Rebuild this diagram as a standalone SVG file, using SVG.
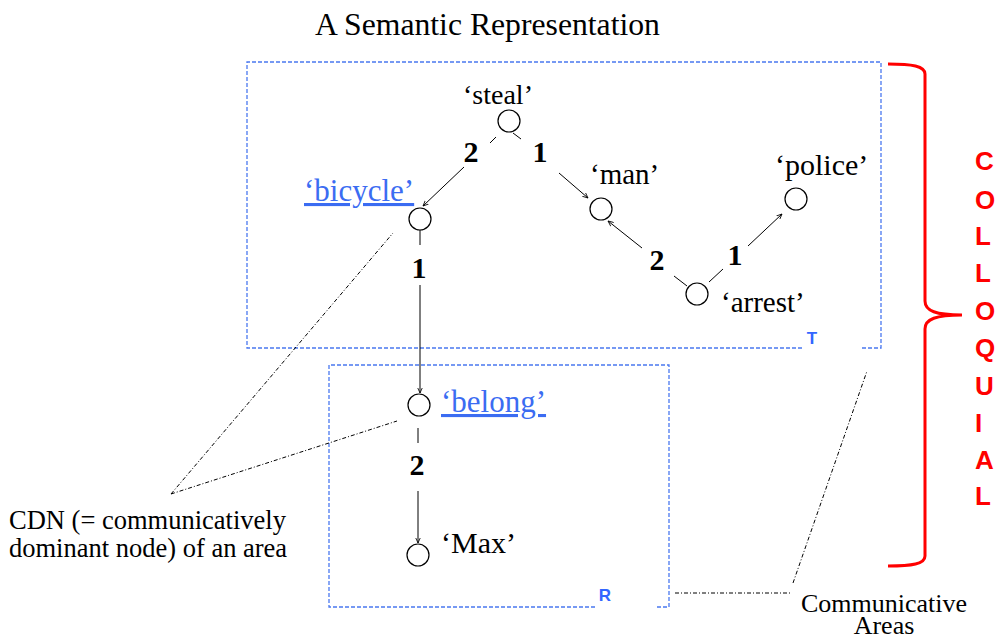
<svg xmlns="http://www.w3.org/2000/svg" width="996" height="635" viewBox="0 0 996 635" font-family="Liberation Serif, serif">
<defs>
<marker id="arr" viewBox="0 0 10 10" refX="9" refY="5" markerWidth="6" markerHeight="6" markerUnits="userSpaceOnUse" orient="auto">
<path d="M0,1 L9,5 L0,9" fill="none" stroke="#000" stroke-width="1.4"/>
</marker>
<style>
.bg{fill:#fff}
.area{fill:none;stroke:#4a78f0;stroke-width:1.3;stroke-dasharray:4,2}
.node{fill:#fff;stroke:#000;stroke-width:1.2}
.edge{stroke:#000;stroke-width:1;fill:none}
.lead{stroke:#000;stroke-width:1;fill:none;stroke-dasharray:4,2,1,2}
</style>
</defs>
<rect class="bg" width="996" height="635"/>

<text x="315" y="35" font-size="31.7" fill="#000">A Semantic Representation</text>

<g id="area-T">
<path class="area" d="M802,348 H247 V62 H881 V348 H862"/>
<text x="812" y="344" font-family="Liberation Sans, Arial, sans-serif" font-size="17" font-weight="bold" fill="#3366ff" text-anchor="middle">T</text>
</g>
<g id="area-R">
<path class="area" d="M595,607 H329 V365 H669 V607 H655"/>
<text x="605" y="601" font-family="Liberation Sans, Arial, sans-serif" font-size="17" font-weight="bold" fill="#3366ff" text-anchor="middle">R</text>
</g>

<g id="connectors">
<line class="edge" x1="490" y1="143" x2="496" y2="137"/>
<line class="edge" x1="464" y1="167" x2="423" y2="206" marker-end="url(#arr)"/>
<line class="edge" x1="513" y1="133" x2="521" y2="139"/>
<line class="edge" x1="559" y1="173" x2="588" y2="198" marker-end="url(#arr)"/>
<line class="edge" x1="674" y1="276" x2="687" y2="286"/>
<line class="edge" x1="642" y1="248" x2="608" y2="221" marker-end="url(#arr)"/>
<line class="edge" x1="709" y1="282" x2="723" y2="269"/>
<line class="edge" x1="748" y1="246" x2="782" y2="214" marker-end="url(#arr)"/>
<line class="edge" x1="420" y1="229" x2="420" y2="245"/>
<line class="edge" x1="420" y1="285" x2="420" y2="393" marker-end="url(#arr)"/>
<line class="edge" x1="418" y1="428" x2="418" y2="443"/>
<line class="edge" x1="418" y1="491" x2="418" y2="543" marker-end="url(#arr)"/>
<g font-size="30" font-weight="bold" fill="#000" text-anchor="middle" font-family="Liberation Serif, serif">
<text x="471" y="162">2</text>
<text x="540" y="162">1</text>
<text x="657" y="270">2</text>
<text x="735" y="265">1</text>
<text x="419" y="278">1</text>
<text x="417" y="475">2</text>
</g>
<line class="lead" x1="171" y1="494" x2="393" y2="233"/>
<line class="lead" x1="171" y1="494" x2="397" y2="421"/>
<line class="lead" x1="793" y1="583" x2="867" y2="371"/>
<line class="lead" x1="675" y1="593" x2="792" y2="593"/>
</g>

<g font-family="Liberation Serif, serif" font-size="29" fill="#000">
<g id="n-steal"><circle class="node" cx="509" cy="121" r="11"/><text x="463" y="104" font-size="28">‘steal’</text></g>
<g id="n-bicycle"><circle class="node" cx="420" cy="219" r="11"/><text x="304" y="201" font-size="31" fill="#3b6cf2" text-decoration="underline">‘bicycle’</text></g>
<g id="n-man"><circle class="node" cx="601" cy="209" r="11"/><text x="590" y="184">‘man’</text></g>
<g id="n-police"><circle class="node" cx="796" cy="199" r="11"/><text x="775" y="175" font-size="30">‘police’</text></g>
<g id="n-arrest"><circle class="node" cx="697" cy="294" r="11"/><text x="721" y="312">‘arrest’</text></g>
<g id="n-belong"><circle class="node" cx="419" cy="405" r="11"/><text x="441" y="412" font-size="31" fill="#3b6cf2" text-decoration="underline">‘belong’</text></g>
<g id="n-max"><circle class="node" cx="418" cy="555" r="11"/><text x="441" y="553" font-size="30">‘Max’</text></g>
</g>

<g id="cdn-note" font-family="Liberation Serif, serif" font-size="26.5" fill="#000">
<text x="9" y="529">CDN (= communicatively</text>
<text x="9" y="557">dominant node) of an area</text>
</g>
<g id="areas-note" font-family="Liberation Serif, serif" font-size="26" fill="#000" text-anchor="middle">
<text x="884" y="612">Communicative</text>
<text x="884" y="634">Areas</text>
</g>

<g id="colloquial" font-family="Liberation Sans, Arial, sans-serif" font-size="26" font-weight="bold" fill="#ff0000">
<path d="M888,64 C912,64 925,66 925,74 L925,301 C925,311 936,315 962,315 C936,315 925,319 925,329 L925,556 C925,564 912,566 888,566" fill="none" stroke="#ff0000" stroke-width="3"/>
<text x="975" y="170">C</text>
<text x="975" y="209">O</text>
<text x="975" y="245">L</text>
<text x="975" y="282">L</text>
<text x="975" y="320">O</text>
<text x="975" y="357">Q</text>
<text x="975" y="395">U</text>
<text x="975" y="432">I</text>
<text x="975" y="469">A</text>
<text x="975" y="505">L</text>
</g>
</svg>
